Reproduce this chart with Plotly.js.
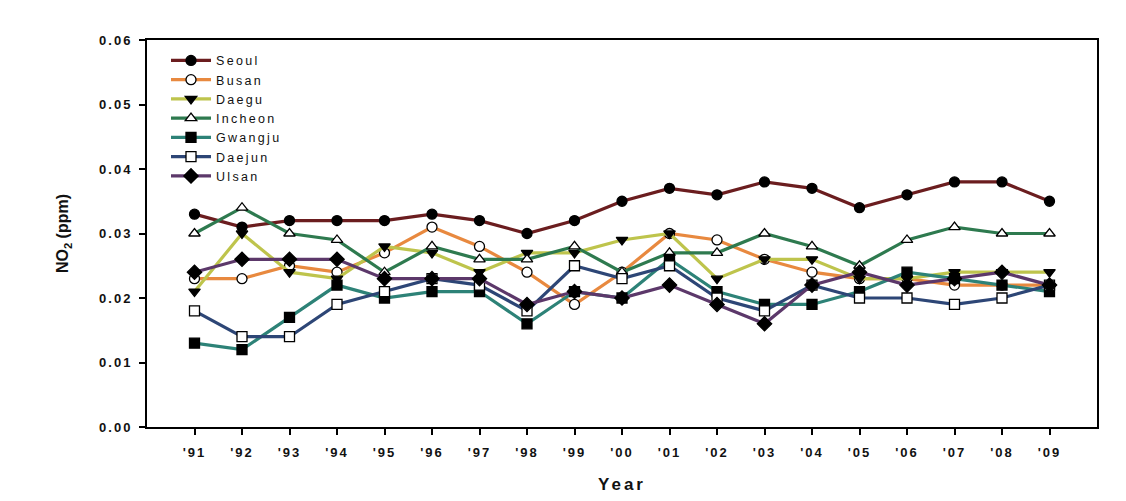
<!DOCTYPE html>
<html>
<head>
<meta charset="utf-8">
<script src="https://cdn.plot.ly/plotly-3.0.1.min.js"></script>
<style>
  html, body { margin: 0; padding: 0; background: #fff; }
  #chart { width: 1126px; height: 501px; }
  .xtick text, .ytick text { letter-spacing: 2px; }
  .g-xtitle text { letter-spacing: 3px; }
  .legendtext { letter-spacing: 2.3px; }
</style>
</head>
<body>
<div id="chart"></div>
<script>
const years = ["'91","'92","'93","'94","'95","'96","'97","'98","'99","'00","'01","'02","'03","'04","'05","'06","'07","'08","'09"];

const seoul   = [0.033,0.031,0.032,0.032,0.032,0.033,0.032,0.030,0.032,0.035,0.037,0.036,0.038,0.037,0.034,0.036,0.038,0.038,0.035];
const busan   = [0.023,0.023,0.025,0.024,0.027,0.031,0.028,0.024,0.019,0.024,0.030,0.029,0.026,0.024,0.023,0.023,0.022,0.022,0.022];
const daegu   = [0.021,0.030,0.024,0.023,0.028,0.027,0.024,0.027,0.027,0.029,0.030,0.023,0.026,0.026,0.023,0.023,0.024,0.024,0.024];
const incheon = [0.030,0.034,0.030,0.029,0.024,0.028,0.026,0.026,0.028,0.024,0.027,0.027,0.030,0.028,0.025,0.029,0.031,0.030,0.030];
const gwangju = [0.013,0.012,0.017,0.022,0.020,0.021,0.021,0.016,0.021,0.020,0.026,0.021,0.019,0.019,0.021,0.024,0.023,0.022,0.021];
const daejun  = [0.018,0.014,0.014,0.019,0.021,0.023,0.022,0.018,0.025,0.023,0.025,0.020,0.018,0.022,0.020,0.020,0.019,0.020,0.022];
const ulsan   = [0.024,0.026,0.026,0.026,0.023,0.023,0.023,0.019,0.021,0.020,0.022,0.019,0.016,0.022,0.024,0.022,0.023,0.024,0.022];

const yTicks = [0, 0.01, 0.02, 0.03, 0.04, 0.05, 0.06];

const series = [
  {name: "Seoul",   y: seoul,   color: "#6b1d1f", symbol: "circle",        fill: "#000"},
  {name: "Busan",   y: busan,   color: "#e8893f", symbol: "circle",        fill: "#fff"},
  {name: "Daegu",   y: daegu,   color: "#bec44c", symbol: "triangle-down", fill: "#000"},
  {name: "Incheon", y: incheon, color: "#2e7a4f", symbol: "triangle-up",   fill: "#fff"},
  {name: "Gwangju", y: gwangju, color: "#2d8277", symbol: "square",        fill: "#000"},
  {name: "Daejun",  y: daejun,  color: "#2d4676", symbol: "square",        fill: "#fff"},
  {name: "Ulsan",   y: ulsan,   color: "#5c386a", symbol: "diamond",       fill: "#000"}
];

const xIdx = years.map((_, i) => i);
const FONT = "Liberation Sans, Arial, sans-serif";

const traces = series.map(s => ({
  type: "scatter",
  mode: "lines+markers",
  name: s.name,
  x: xIdx,
  y: s.y,
  line: {color: s.color, width: 3.2},
  marker: {symbol: s.symbol, size: s.symbol === "diamond" ? 11 : 10, color: s.fill, line: {color: "#000", width: 1.3}}
}));

const layout = {
  width: 1126, height: 501,
  margin: {l: 147, r: 29, t: 40, b: 74},
  paper_bgcolor: "#fff",
  plot_bgcolor: "#fff",
  showlegend: true,
  legend: {
    x: 0.02, y: 0.985, xanchor: "left", yanchor: "top",
    bgcolor: "rgba(0,0,0,0)",
    font: {family: FONT, size: 12.5, color: "#111"},
    tracegroupgap: 0,
    itemwidth: 40
  },
  xaxis: {
    range: [-1, 19],
    tickmode: "array",
    tickvals: xIdx,
    ticktext: years,
    ticks: "outside", ticklen: 6, tickwidth: 2, tickcolor: "#000",
    ticklabelstandoff: 6,
    showline: true, linecolor: "#000", linewidth: 2, mirror: true,
    showgrid: false, zeroline: false,
    tickfont: {family: FONT, size: 13, color: "#111", weight: "bold"},
    title: {text: "Year", font: {family: FONT, size: 17, color: "#111", weight: "bold"}, standoff: 20}
  },
  yaxis: {
    range: [0, 0.06],
    tickmode: "array",
    tickvals: yTicks,
    ticktext: yTicks.map(v => v.toFixed(2)),
    ticks: "outside", ticklen: 6, tickwidth: 2, tickcolor: "#000",
    ticklabelstandoff: 4,
    showline: true, linecolor: "#000", linewidth: 2, mirror: true,
    showgrid: false, zeroline: false,
    tickfont: {family: FONT, size: 13, color: "#111", weight: "bold"},
    title: {text: "NO<sub>2</sub> (ppm)", font: {family: FONT, size: 16, color: "#111", weight: "bold"}, standoff: 26}
  }
};

Plotly.newPlot("chart", traces, layout, {displayModeBar: false, staticPlot: true});
</script>
</body>
</html>
